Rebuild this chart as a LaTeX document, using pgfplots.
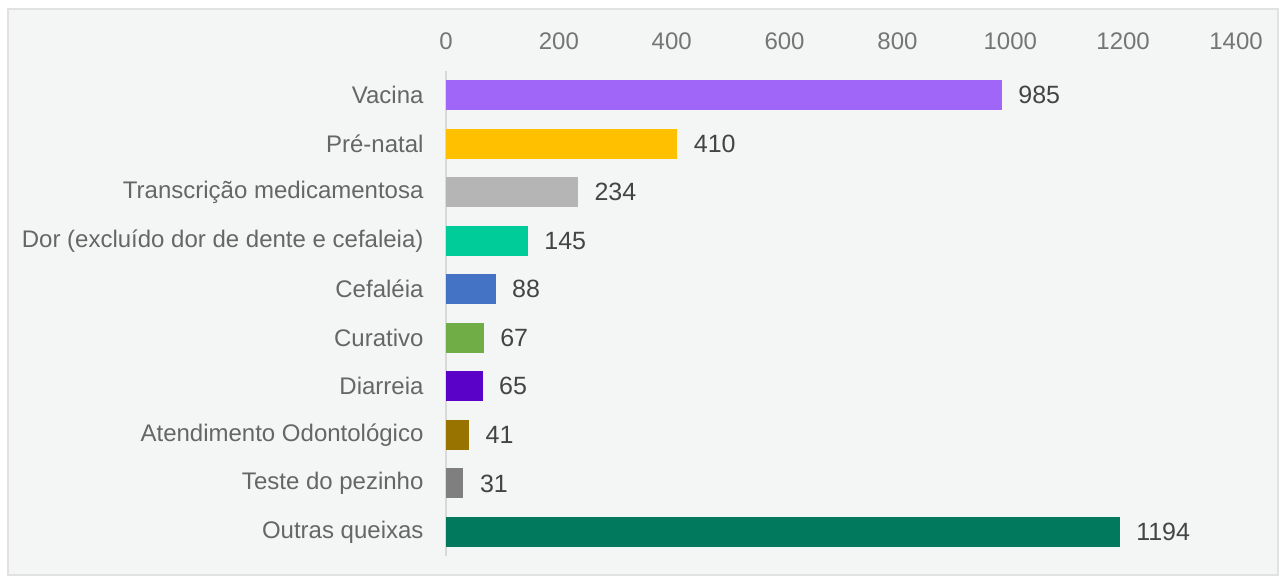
\documentclass[border=0pt]{standalone}
\usepackage{fontspec}
\setmainfont{Liberation Sans}
\usepackage{pgfplots}
\pgfplotsset{compat=1.18}
\definecolor{bgc}{HTML}{F4F6F5}
\definecolor{framec}{HTML}{E2E2E2}
\definecolor{axc}{HTML}{D9D9D9}
\definecolor{tickc}{HTML}{757575}
\definecolor{catc}{HTML}{666666}
\definecolor{valc}{HTML}{444444}
\definecolor{c1}{HTML}{A066F8}
\definecolor{c2}{HTML}{FFC000}
\definecolor{c3}{HTML}{B5B5B5}
\definecolor{c4}{HTML}{00CC99}
\definecolor{c5}{HTML}{4472C4}
\definecolor{c6}{HTML}{70AD47}
\definecolor{c7}{HTML}{5A02C8}
\definecolor{c8}{HTML}{997300}
\definecolor{c9}{HTML}{7F7F7F}
\definecolor{c10}{HTML}{00795C}
\begin{document}
\begin{tikzpicture}[x=1pt,y=1pt]
\fill[white] (0,0) rectangle (1282,580);
\filldraw[fill=bgc, draw=framec, line width=1.5pt] (8,5) rectangle (1278,571);
\begin{axis}[
  at={(446pt,23.7pt)}, anchor=south west,
  scale only axis, width=790pt, height=485.6pt,
  xmin=0, xmax=1400, ymin=-0.5, ymax=9.5,
  xbar, bar width=30pt, bar shift=0pt,
  axis x line*=top, axis y line*=left,
  x axis line style={draw=none, -},
  y axis line style={draw=axc, line width=1.2pt, -},
  major tick length=0pt,
  xtick={0,200,...,1400},
  ytick={0,...,9},
  yticklabels={Outras queixas, Teste do pezinho, Atendimento Odontológico, Diarreia, Curativo, Cefaléia, Dor (excluído dor de dente e cefaleia), Transcrição medicamentosa, Pré-natal, Vacina},
  /pgf/number format/assume math mode=true,
  /pgf/number format/1000 sep={},
  xticklabel style={font=\fontsize{24}{28}\selectfont, text=tickc},
  yticklabel style={font=\fontsize{24}{28}\selectfont, text=catc},
  xticklabel shift=17pt,
  yticklabel shift=19pt,
  nodes near coords,
  nodes near coords style={anchor=west, xshift=13pt, font=\fontsize{25}{29}\selectfont, text=valc,
    /pgf/number format/1000 sep={}},
  clip=false,
]
\addplot[fill=c1, draw=none] coordinates {(985,9)};
\addplot[fill=c2, draw=none] coordinates {(410,8)};
\addplot[fill=c3, draw=none] coordinates {(234,7)};
\addplot[fill=c4, draw=none] coordinates {(145,6)};
\addplot[fill=c5, draw=none] coordinates {(88,5)};
\addplot[fill=c6, draw=none] coordinates {(67,4)};
\addplot[fill=c7, draw=none] coordinates {(65,3)};
\addplot[fill=c8, draw=none] coordinates {(41,2)};
\addplot[fill=c9, draw=none] coordinates {(31,1)};
\addplot[fill=c10, draw=none] coordinates {(1194,0)};
\end{axis}
\end{tikzpicture}
\end{document}
